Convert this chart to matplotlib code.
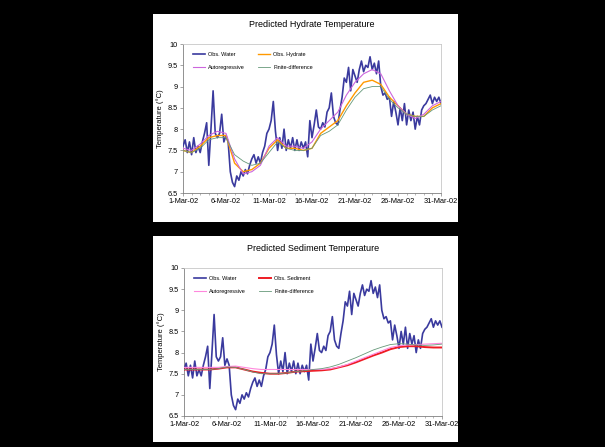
import numpy as np
import pandas as pd
import matplotlib
matplotlib.use("Agg")
import matplotlib.pyplot as plt
import matplotlib.dates as mdates
from matplotlib.patches import Rectangle

plt.rcParams['font.family'] = ['Liberation Sans', 'DejaVu Sans']

# ---------------- data ----------------
obs_water = [
    7.6, 7.75, 7.45, 7.7,
    7.4, 7.8, 7.45, 7.6,
    7.45, 7.7, 7.9, 8.15,
    7.15, 8.0, 8.9, 7.9,
    7.8, 7.9, 8.35, 7.7,
    7.85, 7.7, 7.0, 6.75,
    6.65, 6.9, 6.8, 7.0,
    6.9, 7.05, 6.95, 7.15,
    7.3, 7.4, 7.2, 7.35,
    7.2, 7.45, 7.6, 7.9,
    8.0, 8.2, 8.65, 7.95,
    7.5, 7.8, 7.55, 8.0,
    7.5, 7.75, 7.55, 7.8,
    7.5, 7.75, 7.5, 7.7,
    7.55, 7.7, 7.35, 8.2,
    7.8, 8.1, 8.45, 8.05,
    8.0, 8.15, 8.05, 8.4,
    8.5, 8.85, 8.3, 8.15,
    8.1, 8.45, 8.75, 9.2,
    9.1, 9.45, 8.9, 9.4,
    9.25, 9.1, 9.4, 9.6,
    9.35, 9.5, 9.45, 9.7,
    9.4, 9.55, 9.3, 9.6,
    9.0, 8.8, 8.85, 8.7,
    8.75, 8.3, 8.65, 8.4,
    8.1, 8.5, 8.2, 8.6,
    8.1, 8.45, 8.2, 8.4,
    8.0, 8.3, 8.1, 8.45,
    8.55, 8.6, 8.7, 8.8,
    8.6, 8.75, 8.65, 8.75,
    8.6,
]

obs_hydrate = [7.5, 7.45, 7.6, 7.8, 7.85, 7.85, 7.2, 7.0, 7.05, 7.2, 7.55,
               7.75, 7.55, 7.55, 7.5, 7.55, 7.9, 8.05, 8.2, 8.55, 8.85,
               9.1, 9.15, 9.05, 8.75, 8.55, 8.35, 8.3, 8.3, 8.5, 8.6]
ar_hydrate = [7.55, 7.5, 7.65, 7.85, 7.95, 7.9, 7.3, 6.95, 7.0, 7.15, 7.6,
              7.8, 7.6, 7.6, 7.55, 7.7, 8.0, 8.2, 8.4, 8.8, 9.1,
              9.3, 9.4, 9.3, 8.9, 8.55, 8.35, 8.25, 8.35, 8.55, 8.65]
fd_hydrate = [7.5, 7.45, 7.55, 7.75, 7.8, 7.8, 7.4, 7.25, 7.15, 7.2, 7.45,
              7.7, 7.55, 7.5, 7.5, 7.55, 7.85, 7.95, 8.1, 8.45, 8.75,
              8.95, 9.0, 9.0, 8.7, 8.5, 8.35, 8.3, 8.3, 8.45, 8.55]

obs_sediment = [7.6, 7.6, 7.6, 7.6, 7.62, 7.65, 7.65, 7.6, 7.55, 7.52, 7.5,
                7.5, 7.52, 7.55, 7.56, 7.57, 7.58, 7.6, 7.65, 7.7, 7.77,
                7.85, 7.93, 8.0, 8.08, 8.13, 8.15, 8.15, 8.13, 8.12, 8.12]
ar_sediment = [7.65, 7.65, 7.65, 7.65, 7.65, 7.67, 7.68, 7.65, 7.62, 7.6, 7.6,
               7.6, 7.6, 7.6, 7.6, 7.6, 7.6, 7.62, 7.66, 7.72, 7.8,
               7.88, 7.96, 8.04, 8.12, 8.16, 8.18, 8.19, 8.2, 8.21, 8.22]
fd_sediment = [7.6, 7.6, 7.6, 7.6, 7.62, 7.66, 7.65, 7.6, 7.54, 7.5, 7.5,
               7.5, 7.52, 7.55, 7.57, 7.6, 7.62, 7.66, 7.72, 7.8, 7.88,
               7.97, 8.06, 8.13, 8.19, 8.21, 8.2, 8.18, 8.17, 8.18, 8.2]

t_water = pd.date_range('2002-03-01', periods=len(obs_water), freq='6h')
t_daily = pd.date_range('2002-03-01', periods=len(obs_hydrate), freq='D')
yticks = [6.5, 7, 7.5, 8, 8.5, 9, 9.5, 10]
ytick_labels = ['6.5', '7', '7.5', '8', '8.5', '9', '9.5', '10']
xtick_dates = pd.date_range('2002-03-01', '2002-03-31', freq='5D')

# ---------------- figure ----------------
W, H = 605, 447
fig = plt.figure(figsize=(W / 100, H / 100), dpi=100, facecolor='black')


def px_rect(x0, y0, x1, y1):
    return [x0 / W, 1 - y1 / H, (x1 - x0) / W, (y1 - y0) / H]


for (x0, y0, x1, y1) in [(153, 14, 458, 222), (153, 236, 458, 442)]:
    r = px_rect(x0, y0, x1, y1)
    fig.patches.append(Rectangle((r[0], r[1]), r[2], r[3], transform=fig.transFigure,
                                 facecolor='white', edgecolor='none', zorder=-5))

WATER_C = '#3a3a9e'


def style_axes(ax, title):
    ax.set_xlim(pd.Timestamp('2002-03-01'), pd.Timestamp('2002-03-31'))
    ax.set_ylim(6.5, 10)
    ax.set_yticks(yticks)
    ax.set_yticklabels(ytick_labels)
    ax.set_xticks(xtick_dates)
    ax.xaxis.set_major_formatter(mdates.DateFormatter('%-d-%b-%y'))
    ax.xaxis.set_minor_locator(mdates.DayLocator())
    ax.tick_params(axis='both', labelsize=5.3, length=2, width=0.5, color='#808080', pad=1.5)
    ax.tick_params(axis='x', which='minor', length=1.2, width=0.4, color='#808080')
    for s in ['top', 'right']:
        ax.spines[s].set_color('#c8c8c8')
        ax.spines[s].set_linewidth(0.6)
    for s in ['left', 'bottom']:
        ax.spines[s].set_color('#808080')
        ax.spines[s].set_linewidth(0.6)
    ax.set_ylabel('Temperature (°C)', fontsize=5.5, labelpad=3)
    ax.set_title(title, fontsize=6.5, pad=12)
    ax.set_facecolor('white')


def add_legend(ax, handles):
    # column-major order: col 1 = handles[0], handles[2]; col 2 = handles[1], handles[3]
    order = [handles[0], handles[2], handles[1], handles[3]]
    ax.legend(handles=order, loc='upper left', ncol=2, fontsize=4, frameon=False,
              handlelength=2.2, handletextpad=0.5, columnspacing=2.4,
              labelspacing=1.35, borderpad=0, borderaxespad=0,
              bbox_to_anchor=(0.039, 0.945))


# top chart
ax1 = fig.add_axes(px_rect(183, 44, 441, 193))
h1 = ax1.plot(t_water, obs_water, color=WATER_C, lw=1.2, label='Obs. Water', zorder=3)
h2 = ax1.plot(t_daily, obs_hydrate, color='#ff9900', lw=1.0, label='Obs. Hydrate', zorder=4)
h3 = ax1.plot(t_daily, ar_hydrate, color='#cc66dd', lw=0.8, label='Autoregressive', zorder=4)
h4 = ax1.plot(t_daily, fd_hydrate, color='#66997a', lw=0.6, label='Finite-difference', zorder=4)
style_axes(ax1, 'Predicted Hydrate Temperature')
add_legend(ax1, [h1[0], h2[0], h3[0], h4[0]])

# bottom chart
ax2 = fig.add_axes(px_rect(184, 268, 442, 416))
g1 = ax2.plot(t_water, obs_water, color=WATER_C, lw=1.2, label='Obs. Water', zorder=3)
g2 = ax2.plot(t_daily, obs_sediment, color='#ee1c24', lw=1.4, label='Obs. Sediment', zorder=4)
g3 = ax2.plot(t_daily, ar_sediment, color='#ff88dd', lw=0.8, label='Autoregressive', zorder=4)
g4 = ax2.plot(t_daily, fd_sediment, color='#66997a', lw=0.6, label='Finite-difference', zorder=4)
style_axes(ax2, 'Predicted Sediment Temperature')
add_legend(ax2, [g1[0], g2[0], g3[0], g4[0]])

fig.savefig('out.png', dpi=100, facecolor='black')
